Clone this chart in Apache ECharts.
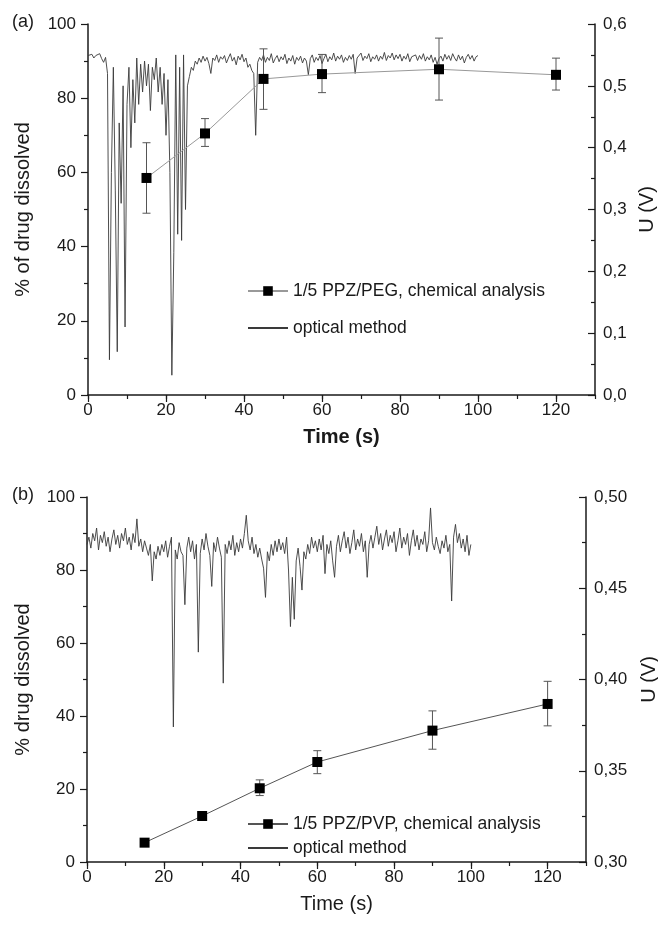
<!DOCTYPE html>
<html><head><meta charset="utf-8">
<script src="https://cdn.jsdelivr.net/npm/echarts@6/dist/echarts.min.js"></script>
<style>html,body{margin:0;padding:0;background:#fff}#c{width:658px;height:925px}</style>
</head><body><div id="c"></div>
<script>
// ---- data ----
const chemTime = [15, 30, 45, 60, 90, 120];
const pegDissolved = [58.5, 70.5, 85.2, 86.5, 87.8, 86.3];
const pegErrLow = [49.0, 67.0, 77.0, 81.5, 79.5, 82.2];
const pegErrHigh = [68.0, 74.5, 93.3, 91.8, 96.2, 90.8];
const pvpDissolved = [5.3, 12.6, 20.2, 27.4, 36.0, 43.3];
const pvpErrLow = [5.3, 12.6, 18.2, 24.2, 30.9, 37.3];
const pvpErrHigh = [5.3, 12.6, 22.5, 30.5, 41.4, 49.5];
const xTickValues = [0, 20, 40, 60, 80, 100, 120];
const leftTickValues = [0, 20, 40, 60, 80, 100];
const opticalStep = 0.5; // s between optical samples, from t = 0 to 100 s
const pegVoltage = [
0.549,0.546,0.551,0.545,0.549,0.547,0.552,0.544,0.538,0.546,
0.520,0.057,0.360,0.530,0.330,0.070,0.440,0.310,0.500,0.110,
0.470,0.530,0.400,0.510,0.440,0.545,0.470,0.535,0.490,0.540,
0.500,0.535,0.460,0.530,0.510,0.545,0.490,0.530,0.470,0.520,
0.420,0.510,0.360,0.032,0.230,0.550,0.260,0.530,0.250,0.550,
0.300,0.500,0.515,0.530,0.525,0.540,0.535,0.545,0.538,0.548,
0.540,0.546,0.536,0.520,0.545,0.541,0.550,0.538,0.547,0.543,
0.549,0.537,0.545,0.552,0.540,0.546,0.534,0.548,0.542,0.551,
0.539,0.545,0.530,0.535,0.525,0.520,0.420,0.538,0.546,0.541,
0.550,0.538,0.546,0.541,0.552,0.537,0.544,0.549,0.539,0.547,
0.542,0.551,0.536,0.545,0.540,0.549,0.535,0.546,0.541,0.548,
0.537,0.545,0.540,0.518,0.544,0.550,0.538,0.546,0.541,0.549,
0.536,0.544,0.551,0.539,0.547,0.542,0.553,0.540,0.548,0.543,
0.550,0.538,0.546,0.541,0.549,0.543,0.551,0.520,0.545,0.547,
0.553,0.541,0.548,0.544,0.552,0.539,0.547,0.543,0.550,0.540,
0.548,0.543,0.554,0.541,0.549,0.545,0.553,0.542,0.550,0.544,
0.551,0.540,0.548,0.543,0.552,0.539,0.547,0.544,0.550,0.541,
0.549,0.543,0.552,0.540,0.547,0.542,0.550,0.538,0.546,0.535,
0.544,0.548,0.540,0.551,0.543,0.549,0.541,0.552,0.545,0.540,
0.550,0.542,0.548,0.537,0.546,0.551,0.543,0.549,0.540,0.547,
0.549];
const pvpVoltage = [
0.474,0.478,0.472,0.480,0.476,0.483,0.471,0.479,0.475,0.481,
0.473,0.478,0.470,0.477,0.482,0.474,0.479,0.472,0.480,0.476,
0.483,0.474,0.478,0.471,0.480,0.475,0.488,0.473,0.477,0.470,
0.476,0.472,0.468,0.474,0.454,0.470,0.466,0.473,0.468,0.474,
0.470,0.476,0.467,0.473,0.478,0.374,0.471,0.466,0.475,0.470,
0.468,0.441,0.472,0.478,0.470,0.476,0.466,0.474,0.415,0.469,
0.477,0.471,0.480,0.473,0.468,0.451,0.475,0.470,0.478,0.472,
0.467,0.398,0.474,0.469,0.476,0.471,0.479,0.468,0.475,0.470,
0.477,0.472,0.480,0.490,0.476,0.471,0.478,0.469,0.474,0.467,
0.472,0.466,0.461,0.445,0.470,0.465,0.474,0.468,0.476,0.470,
0.477,0.471,0.475,0.469,0.478,0.460,0.429,0.456,0.433,0.465,
0.472,0.462,0.449,0.470,0.466,0.474,0.469,0.478,0.472,0.476,
0.470,0.477,0.471,0.479,0.458,0.474,0.469,0.476,0.465,0.456,
0.473,0.479,0.470,0.476,0.481,0.472,0.478,0.469,0.475,0.482,
0.471,0.477,0.473,0.480,0.470,0.476,0.456,0.474,0.479,0.472,
0.478,0.484,0.474,0.480,0.471,0.477,0.482,0.473,0.479,0.475,
0.481,0.470,0.476,0.483,0.472,0.478,0.474,0.480,0.468,0.476,
0.482,0.473,0.479,0.471,0.477,0.474,0.481,0.470,0.476,0.494,
0.475,0.471,0.478,0.473,0.469,0.476,0.472,0.479,0.470,0.474,
0.443,0.478,0.485,0.475,0.480,0.472,0.477,0.470,0.479,0.468,
0.474];

// ---- chart ----
const FONT = "'Liberation Sans', Arial, sans-serif";
const INK = '#1a1a1a';
const TICKFONT = 17;
const chart = echarts.init(document.getElementById('c'), null, {renderer: 'canvas'});

function majorX(grid, boldName) {
  return {
    gridIndex: grid, type: 'value', min: 0, max: 130, interval: 20, position: 'bottom',
    axisLine: {show: true, onZero: false, lineStyle: {color: INK, width: 1.5}},
    axisTick: {show: true, length: 7, lineStyle: {color: INK, width: 1.2}},
    axisLabel: {color: INK, fontSize: TICKFONT, fontFamily: FONT, margin: 7, showMaxLabel: false,
      formatter: v => xTickValues.includes(v) ? String(v) : ''},
    splitLine: {show: false},
    name: 'Time (s)', nameLocation: 'middle', nameGap: 32,
    nameTextStyle: {color: INK, fontSize: 20, fontFamily: FONT, fontWeight: boldName ? 'bold' : 'normal'}
  };
}
function minorX(grid) {
  return {
    gridIndex: grid, type: 'value', min: 0, max: 130, interval: 10, position: 'bottom',
    axisLine: {show: false, onZero: false}, axisLabel: {show: false}, splitLine: {show: false},
    axisTick: {show: true, length: 4, lineStyle: {color: INK, width: 1.2}}
  };
}
function leftY(grid, name, gap) {
  return {
    gridIndex: grid, type: 'value', min: 0, max: 100, interval: 20, position: 'left',
    axisLine: {show: true, onZero: false, lineStyle: {color: INK, width: 1.5}},
    axisTick: {show: true, length: 7, lineStyle: {color: INK, width: 1.2}},
    minorTick: {show: true, splitNumber: 2, length: 4, lineStyle: {color: INK, width: 1.2}},
    axisLabel: {color: INK, fontSize: TICKFONT, fontFamily: FONT, margin: 12,
      formatter: v => leftTickValues.includes(v) ? String(v) : ''},
    splitLine: {show: false},
    name: name, nameLocation: 'middle', nameGap: gap, nameRotate: 90,
    nameTextStyle: {color: INK, fontSize: 20, fontFamily: FONT}
  };
}
function rightY(grid, min, max, interval, decimals, gap) {
  return {
    gridIndex: grid, type: 'value', min: min, max: max, interval: interval, position: 'right',
    axisLine: {show: true, onZero: false, lineStyle: {color: INK, width: 1.5}},
    axisTick: {show: true, inside: true, length: 7, lineStyle: {color: INK, width: 1.2}},
    minorTick: {show: true, splitNumber: 2, length: 4, lineStyle: {color: INK, width: 1.2}},
    axisLabel: {color: INK, fontSize: TICKFONT, fontFamily: FONT, margin: 8,
      formatter: v => v.toFixed(decimals).replace('.', ',')},
    splitLine: {show: false},
    name: 'U (V)', nameLocation: 'middle', nameGap: gap, nameRotate: 90,
    nameTextStyle: {color: INK, fontSize: 20, fontFamily: FONT}
  };
}
function errorBars(xi, yi, lows, highs, color) {
  return {
    type: 'custom', xAxisIndex: xi, yAxisIndex: yi, silent: true, z: 3,
    encode: {x: 0, y: [1, 2]},
    data: chemTime.map((t, i) => [t, lows[i], highs[i]]),
    renderItem: function (params, api) {
      if (api.value(1) === api.value(2)) return null;
      const lo = api.coord([api.value(0), api.value(1)]);
      const hi = api.coord([api.value(0), api.value(2)]);
      const w = 4, st = {stroke: color, lineWidth: 1};
      return {type: 'group', children: [
        {type: 'line', shape: {x1: lo[0], y1: lo[1], x2: hi[0], y2: hi[1]}, style: st},
        {type: 'line', shape: {x1: lo[0] - w, y1: lo[1], x2: lo[0] + w, y2: lo[1]}, style: st},
        {type: 'line', shape: {x1: hi[0] - w, y1: hi[1], x2: hi[0] + w, y2: hi[1]}, style: st}
      ]};
    }
  };
}
function chemLine(name, xi, yi, values, color) {
  return {
    name: name, type: 'line', xAxisIndex: xi, yAxisIndex: yi, z: 4,
    data: chemTime.map((t, i) => [t, values[i]]),
    symbol: 'rect', symbolSize: 10, showSymbol: true,
    itemStyle: {color: '#000'},
    lineStyle: {color: color, width: 1},
    animation: false
  };
}
function opticalLine(xi, yi, volts) {
  return {
    name: 'optical method', type: 'line', xAxisIndex: xi, yAxisIndex: yi, z: 2,
    data: volts.map((v, i) => [i * opticalStep, v]),
    symbol: 'none', showSymbol: false,
    lineStyle: {color: '#3a3a3a', width: 0.9},
    itemStyle: {color: '#3a3a3a'},
    animation: false
  };
}
const legendText = {color: INK, fontSize: 17.5, fontFamily: FONT, lineHeight: 18};

const option = {
  backgroundColor: '#fff',
  animation: false,
  textStyle: {fontFamily: FONT},
  grid: [
    {left: 88, right: 63, top: 24, height: 371, outerBoundsMode: 'none', containLabel: false},
    {left: 87, right: 72, top: 497, height: 365, outerBoundsMode: 'none', containLabel: false}
  ],
  xAxis: [majorX(0, true), minorX(0), majorX(1, false), minorX(1)],
  yAxis: [
    leftY(0, '% of drug dissolved', 55),
    rightY(0, 0, 0.6, 0.1, 1, 42),
    leftY(1, '% drug dissolved', 54),
    rightY(1, 0.30, 0.50, 0.05, 2, 53)
  ],
  legend: [
    {data: ['1/5 PPZ/PEG, chemical analysis', {name: 'optical method', itemStyle: {opacity: 0}}],
     orient: 'vertical', left: 242, top: 277, itemGap: 19, itemWidth: 40, itemHeight: 12,
     selectedMode: false, textStyle: legendText},
    {data: ['1/5 PPZ/PVP, chemical analysis', {name: 'optical method', itemStyle: {opacity: 0}}],
     orient: 'vertical', left: 242, top: 810, itemGap: 6, itemWidth: 40, itemHeight: 12,
     selectedMode: false, textStyle: legendText}
  ],
  graphic: [
    {type: 'text', left: 12, top: 13, style: {text: '(a)', fontSize: 18, fontFamily: FONT, fill: INK}},
    {type: 'text', left: 12, top: 486, style: {text: '(b)', fontSize: 18, fontFamily: FONT, fill: INK}}
  ],
  series: [
    opticalLine(0, 1, pegVoltage),
    errorBars(0, 0, pegErrLow, pegErrHigh, '#555'),
    chemLine('1/5 PPZ/PEG, chemical analysis', 0, 0, pegDissolved, '#999'),
    opticalLine(2, 3, pvpVoltage),
    errorBars(2, 2, pvpErrLow, pvpErrHigh, '#555'),
    chemLine('1/5 PPZ/PVP, chemical analysis', 2, 2, pvpDissolved, '#555')
  ]
};
chart.setOption(option);
</script>
</body></html>
